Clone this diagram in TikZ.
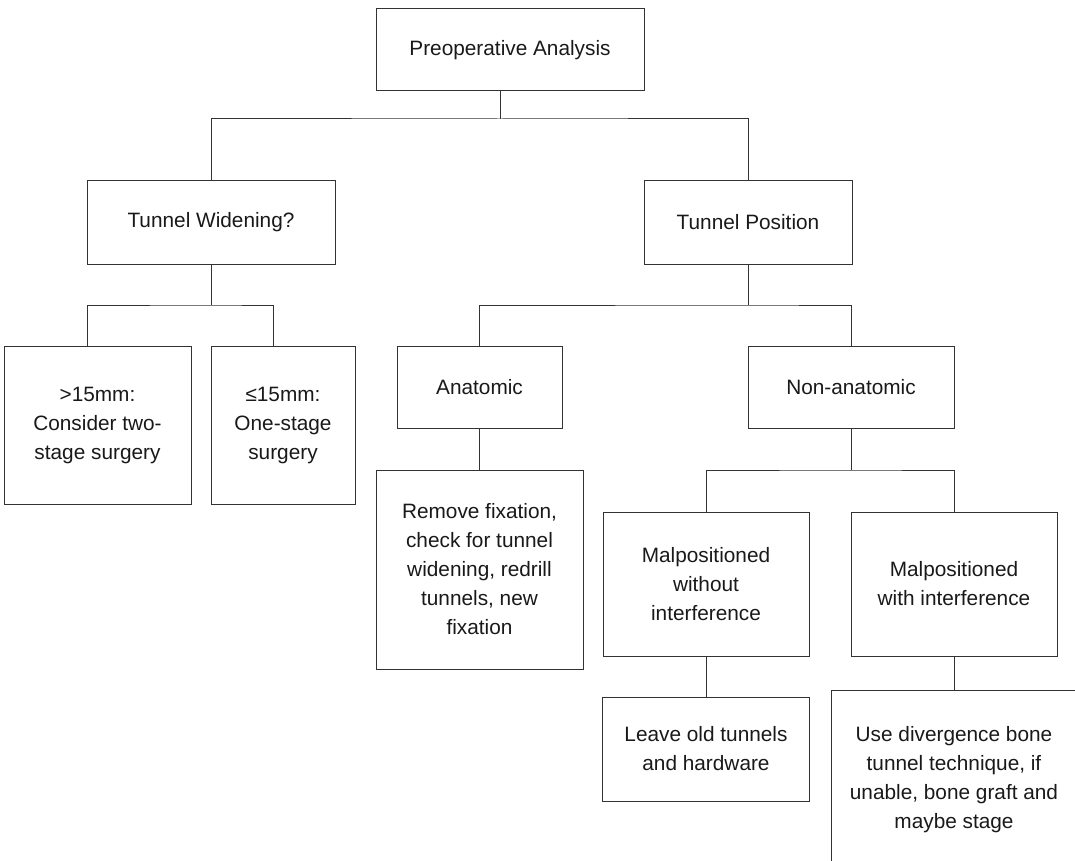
\documentclass[tikz,border=0pt]{standalone}
\usepackage{fontspec}
\setmainfont{Liberation Sans}
\begin{document}
\begin{tikzpicture}[x=1pt,y=-1pt,
  box/.style={draw=black!80, line width=1pt, inner sep=0pt, align=center,
    text=black!90, font=\fontsize{20.8}{29}\selectfont},
  conn/.style={draw=black!80, line width=1pt}]
\useasboundingbox (0,0) rectangle (1075,861);
\clip (0,0) rectangle (1075,861);
\node[box, minimum width=268pt, minimum height=82pt] (pre) at (510,50) {Preoperative Analysis};
\node[box, minimum width=248pt, minimum height=83pt] (tw) at (211,222.5) {Tunnel Widening?};
\node[box, minimum width=208pt, minimum height=83pt] (tp) at (748,222.5) {Tunnel Position};
\node[box, minimum width=187pt, minimum height=158pt] (gt) at (97.5,425) {>15mm:\\Consider two-\\stage surgery};
\node[box, minimum width=144pt, minimum height=158pt] (le) at (283,425) {≤15mm:\\One-stage\\surgery};
\node[box, minimum width=165pt, minimum height=82pt] (ana) at (479.5,387) {Anatomic};
\node[box, minimum width=206pt, minimum height=82pt] (non) at (851,387) {Non-anatomic};
\node[box, minimum width=207pt, minimum height=199pt] (rem) at (479.5,569.5) {Remove fixation,\\check for tunnel\\widening, redrill\\tunnels, new\\fixation};
\node[box, minimum width=206pt, minimum height=144pt] (mwo) at (706,584) {Malpositioned\\without\\interference};
\node[box, minimum width=206pt, minimum height=144pt] (mw) at (954,584) {Malpositioned\\with interference};
\node[box, minimum width=207pt, minimum height=104pt] (lv) at (706,749) {Leave old tunnels\\and hardware};
\node[box, minimum width=246pt, minimum height=180pt] (dv) at (954,780) {Use divergence bone\\tunnel technique, if\\unable, bone graft and\\maybe stage};
\coordinate (b1) at (500,119);
\coordinate (b2) at (211,305);
\coordinate (b3) at (748,305);
\coordinate (b4) at (851,470);
\draw[conn] ([xshift=-10pt]pre.south) -- (b1);
\draw[conn] (tw.north) |- (b1) -| (tp.north);
\draw[conn] (tw.south) -- (b2);
\draw[conn] ([xshift=-10pt]gt.north) |- (b2) -| ([xshift=-10pt]le.north);
\draw[conn] (tp.south) -- (b3);
\draw[conn] (ana.north) |- (b3) -| (non.north);
\draw[conn] (ana.south) -- (rem.north);
\draw[conn] (non.south) -- (b4);
\draw[conn] (mwo.north) |- (b4) -| (mw.north);
\draw[conn] (mwo.south) -- (lv.north);
\draw[conn] (mw.south) -- (dv.north);
\end{tikzpicture}
\end{document}
